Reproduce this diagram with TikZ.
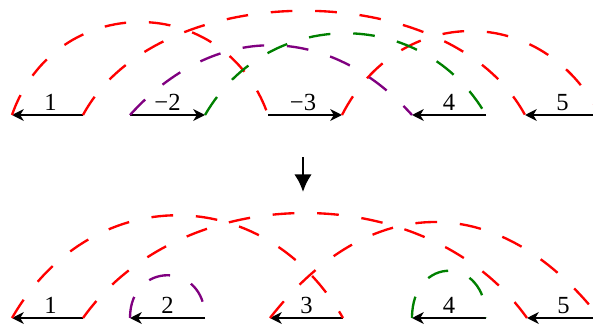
\documentclass[tikz,border=0pt]{standalone}
\usepackage{fontspec}
\setmainfont{Liberation Serif}
\usetikzlibrary{arrows.meta, calc}
\definecolor{arcred}{RGB}{255,0,0}
\definecolor{arcpurple}{RGB}{128,0,128}
\definecolor{arcgreen}{RGB}{0,128,0}

\begin{document}
\begin{tikzpicture}[x=0.03cm, y=0.03cm,
  seg/.style={line width=2.3pt, -{Stealth[length=10pt, width=10pt, inset=3pt]}},
  bond/.style={line width=2pt, dash pattern=on 18.5pt off 19.5pt},
  lbl/.style={anchor=base, inner sep=0pt, font=\fontsize{21}{25}\selectfont}]
  \useasboundingbox (0,0) rectangle (593,326);
  % before
  \begin{scope}[shift={(0,211)}]
    \coordinate (t1L) at (12,0);  \coordinate (t1R) at (83,0);
    \coordinate (t2L) at (130,0); \coordinate (t2R) at (205,0);
    \coordinate (t3L) at (268,0); \coordinate (t3R) at (342,0);
    \coordinate (t4L) at (412,0); \coordinate (t4R) at (486,0);
    \coordinate (t5L) at (525,0); \coordinate (t5R) at (600,0);
    \draw[seg] (t1R) -- (t1L);
    \draw[seg] (t2L) -- (t2R);
    \draw[seg] (t3L) -- (t3R);
    \draw[seg] (t4R) -- (t4L);
    \draw[seg] (t5R) -- (t5L);
    \node[lbl] (tl1) at ($(t1L)!0.5!(t1R)+(3,5)$) {1};
    \node[lbl] (tl2) at ($(t2L)!0.5!(t2R)+(0,5)$) {−2};
    \node[lbl] (tl3) at ($(t3L)!0.5!(t3R)+(-2,5)$) {−3};
    \node[lbl] (tl4) at ($(t4L)!0.5!(t4R)+(0,5)$) {4};
    \node[lbl] (tl5) at ($(t5L)!0.5!(t5R)+(0,5)$) {5};
    \draw[bond, arcred] (t1L) .. controls +(43,124) and +(-43,124) .. (t3L);
    \draw[bond, arcred] (t1R) .. controls +(75,139) and +(-75,139) .. (t5L);
    \draw[bond, arcred] (t3R) .. controls +(57,112) and +(-57,112) .. (t5R);
    \draw[bond, arcpurple] (t2L) .. controls +(84,93) and +(-84,93) .. (t4L);
    \draw[bond, arcgreen] (t2R) .. controls +(63,109) and +(-63,109) .. (t4R);
  \end{scope}
  % step
  \coordinate (dtop) at (303,169);
  \coordinate (dbot) at (303,134);
  \draw[line width=2.3pt, -{Latex[length=15pt, width=15pt]}] (dtop) -- (dbot);
  % after
  \begin{scope}[shift={(0,8)}]
    \coordinate (b1L) at (12,0);  \coordinate (b1R) at (83,0);
    \coordinate (b2L) at (130,0); \coordinate (b2R) at (205,0);
    \coordinate (b3L) at (270,0); \coordinate (b3R) at (343,0);
    \coordinate (b4L) at (412,0); \coordinate (b4R) at (486,0);
    \coordinate (b5L) at (527,0); \coordinate (b5R) at (600,0);
    \draw[seg] (b1R) -- (b1L);
    \draw[seg] (b2R) -- (b2L);
    \draw[seg] (b3R) -- (b3L);
    \draw[seg] (b4R) -- (b4L);
    \draw[seg] (b5R) -- (b5L);
    \node[lbl] (bl1) at ($(b1L)!0.5!(b1R)+(3,5)$) {1};
    \node[lbl] (bl2) at ($(b2L)!0.5!(b2R)+(0,5)$) {2};
    \node[lbl] (bl3) at ($(b3L)!0.5!(b3R)+(0,5)$) {3};
    \node[lbl] (bl4) at ($(b4L)!0.5!(b4R)+(0,5)$) {4};
    \node[lbl] (bl5) at ($(b5L)!0.5!(b5R)+(0,5)$) {5};
    \draw[bond, arcred] (b1L) .. controls +(79,137) and +(-79,137) .. (b3R);
    \draw[bond, arcred] (b1R) .. controls +(100,140) and +(-100,140) .. (b5L);
    \draw[bond, arcred] (b3L) .. controls +(100,128) and +(-100,128) .. (b5R);
    \draw[bond, arcpurple] (b2L) .. controls +(0,57) and +(0,57) .. (b2R);
    \draw[bond, arcgreen] (b4L) .. controls +(0,63) and +(0,63) .. (b4R);
  \end{scope}
\end{tikzpicture}
\end{document}
